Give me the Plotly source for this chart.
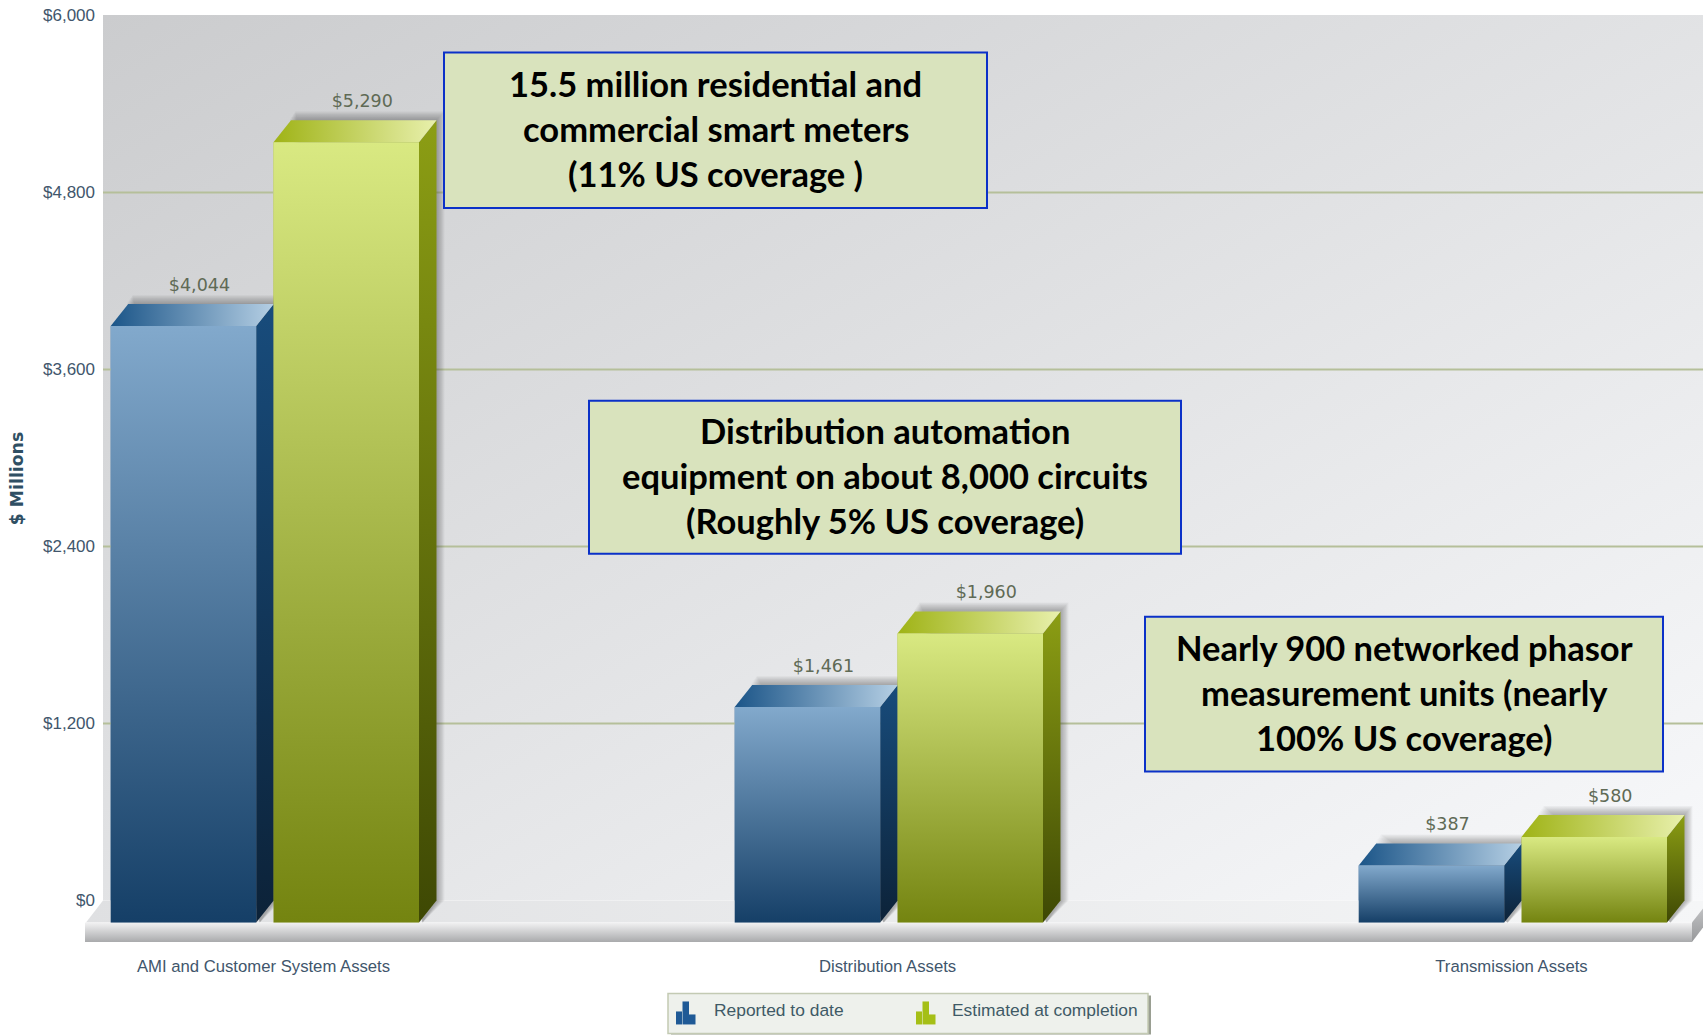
import base64
import plotly.graph_objects as go

W, H = 1703, 1035
categories = ["AMI and Customer System Assets", "Distribution Assets", "Transmission Assets"]
reported = [4044, 1461, 387]
estimated = [5290, 1960, 580]
value_labels_reported = ["$4,044", "$1,461", "$387"]
value_labels_estimated = ["$5,290", "$1,960", "$580"]
y_ticks = [0, 1200, 2400, 3600, 4800, 6000]
y_tick_labels = ["$0", "$1,200", "$2,400", "$3,600", "$4,800", "$6,000"]
notes = [
    ["15.5 million residential and", "commercial smart meters", "(11% US coverage )"],
    ["Distribution automation", "equipment on about 8,000 circuits", "(Roughly 5% US coverage)"],
    ["Nearly 900 networked phasor", "measurement units (nearly", "100% US coverage)"],
]
note_boxes = [(444, 52.5, 987, 208), (589, 401, 1181, 554), (1145, 617, 1663, 772)]

# layout constants, pixels
PX_LEFT, PX_TOP, PX_BOTTOM = 85, 15, 942.5
WALL_LEFT = 103
Y0_PX = 901.0
PX_PER_UNIT = (Y0_PX - 15.5) / 6000
CENTER0, SPACING = 263.5, 624.0
DX, DY_PX = 17.5, 22.0
DEPTH = DY_PX / PX_PER_UNIT
BAR_W = 145.5
DX_U = DX / SPACING
W_U = BAR_W / SPACING
OFF_B = (110.7 - CENTER0) / SPACING
OFF_G = (273.5 - CENTER0) / SPACING
X_MIN = (PX_LEFT - CENTER0) / SPACING
X_MAX = (W - CENTER0) / SPACING
Y_MAX = (Y0_PX - PX_TOP) / PX_PER_UNIT
Y_MIN = (Y0_PX - PX_BOTTOM) / PX_PER_UNIT
xu = lambda px: (px - CENTER0) / SPACING
px_x = lambda px: px / W
px_y = lambda py: 1 - (py - PX_TOP) / (PX_BOTTOM - PX_TOP)


def poly(xs, ys, grad=None, fill=None):
    t = dict(x=list(xs) + [xs[0]], y=list(ys) + [ys[0]], mode="lines", line=dict(width=0),
             fill="toself", hoverinfo="skip", showlegend=False)
    if grad is not None:
        t["fillgradient"] = grad
        t["fillcolor"] = "rgba(0,0,0,0)"
    else:
        t["fillcolor"] = fill
    return go.Scatter(**t)


def vgrad(top, bottom, c_top, c_bottom):
    return dict(type="vertical", start=top, stop=bottom, colorscale=[[0, c_top], [1, c_bottom]])


def hgrad(left, right, c_left, c_right):
    return dict(type="horizontal", start=left, stop=right, colorscale=[[0, c_left], [1, c_right]])


fig = go.Figure()

# real bars (gradient faces are drawn over them)
fig.add_bar(x=list(range(3)), y=reported, base=-DEPTH, width=W_U, offset=OFF_B, name="Reported to date",
            marker_color="#4a75a0", marker_line_width=0, showlegend=False)
fig.add_bar(x=list(range(3)), y=estimated, base=-DEPTH, width=W_U, offset=OFF_G, name="Estimated at completion",
            marker_color="#a8b840", marker_line_width=0, showlegend=False)

# gridlines on back wall
gx, gy = [], []
for t in y_ticks[1:-1]:
    gx += [xu(WALL_LEFT), X_MAX, None]
    gy += [t, t, None]
fig.add_scatter(x=gx, y=gy, mode="lines", line=dict(color="#b5bf9a", width=2), hoverinfo="skip", showlegend=False)

# floor back strip
fig.add_trace(poly([xu(86), xu(103), X_MAX, X_MAX], [-DEPTH, 0, 0, -DEPTH],
                   grad=hgrad(xu(86), X_MAX, "#dfe0e2", "#f5f6f7")))
# shelf front + right end
fig.add_trace(poly([xu(85), xu(1692), xu(1692), xu(85)], [-DEPTH, -DEPTH, Y_MIN, Y_MIN],
                   grad=vgrad(-DEPTH, Y_MIN, "#f2f2f3", "#a9aaac")))
fig.add_trace(poly([xu(1692), xu(1703), xu(1703), xu(1692)],
                   [-DEPTH, -DEPTH + 14 / PX_PER_UNIT, -DEPTH - 5 / PX_PER_UNIT, Y_MIN],
                   grad=vgrad(0, Y_MIN, "#c9cacc", "#97989a")))

BLUE = dict(front=("#82a9cc", "#153f67"), side=("#184c7c", "#0c2238"), top=("#1b5588", "#b5cfe4"))
GREEN = dict(front=("#d9e982", "#748410"), side=("#8c9e14", "#3e4804"), top=("#9fb316", "#e8f0ac"))


def draw_bar(i, v, off, pal):
    x0 = i + off
    x1 = x0 + W_U
    ft, fb = v - DEPTH, -DEPTH
    # soft shadow above and to the right
    for k in range(1, 11):
        e = k / SPACING
        ev = k / PX_PER_UNIT
        fig.add_trace(poly([x0 + DX_U * 0.9 + e * 0.6, x1 + DX_U + e * 0.8, x1 + DX_U + e * 0.8, x1 + DX_U * 0.2],
                           [v + ev * 0.9, v + ev * 0.9, 0, fb], fill="rgba(40,40,40,0.04)"))
    fig.add_trace(poly([x1, x1 + DX_U, x1 + DX_U, x1], [ft, v, 0, fb], grad=vgrad(v, fb, *pal["side"])))
    fig.add_trace(poly([x0, x1, x1 + DX_U, x0 + DX_U], [ft, ft, v, v], grad=hgrad(x0, x1 + DX_U, *pal["top"])))
    fig.add_trace(poly([x0, x1, x1, x0], [ft, ft, fb, fb], grad=vgrad(ft, fb, *pal["front"])))


for i, v in enumerate(reported):
    draw_bar(i, v, OFF_B, BLUE)
for i, v in enumerate(estimated):
    draw_bar(i, v, OFF_G, GREEN)

# data labels
LBL = dict(family="DejaVu Sans", size=17.5, color="#5f6a55")
LIFT = 9 / PX_PER_UNIT
LABEL_DX = -1.5 / SPACING
fig.add_scatter(x=[i + OFF_B + W_U / 2 + DX_U + LABEL_DX for i in range(3)], y=[v + LIFT for v in reported], mode="text",
                text=value_labels_reported, textposition="top center", textfont=LBL, hoverinfo="skip", showlegend=False)
fig.add_scatter(x=[i + OFF_G + W_U / 2 + DX_U + LABEL_DX for i in range(3)], y=[v + LIFT for v in estimated], mode="text",
                text=value_labels_estimated, textposition="top center", textfont=LBL, hoverinfo="skip", showlegend=False)

# back wall gradient
svg = ('<svg xmlns="http://www.w3.org/2000/svg" width="400" height="400" preserveAspectRatio="none">'
       '<defs><linearGradient id="g" x1="0" y1="0" x2="1" y2="1">'
       '<stop offset="0" stop-color="#cbccce"/><stop offset="1" stop-color="#f8f9fb"/></linearGradient></defs>'
       '<rect width="400" height="400" fill="url(#g)"/></svg>')
src = "data:image/svg+xml;base64," + base64.b64encode(svg.encode()).decode()
images = [dict(source=src, xref="paper", yref="paper", x=px_x(WALL_LEFT), y=px_y(PX_TOP),
               sizex=(W - WALL_LEFT) / W, sizey=(Y0_PX - PX_TOP) / (PX_BOTTOM - PX_TOP), sizing="stretch", layer="below",
               xanchor="left", yanchor="top")]

shapes, annotations = [], []
for (x0, y0, x1, y1), lines in zip(note_boxes, notes):
    shapes.append(dict(type="rect", xref="paper", yref="paper", x0=px_x(x0), x1=px_x(x1), y0=px_y(y0), y1=px_y(y1),
                       fillcolor="#d9e3bd", line=dict(color="#0b31c8", width=2), layer="above"))
    cy = (y0 + y1) / 2 - 1.5
    for n, line in enumerate(lines):
        annotations.append(dict(xref="paper", yref="paper", x=px_x((x0 + x1) / 2), y=px_y(cy + (n - 1) * 45),
                                text=line, showarrow=False, xanchor="center", yanchor="middle",
                                font=dict(family="Lato", size=34.5, color="#000000", weight="bold")))

# legend
LG = (668, 994, 1148, 1034)
shapes.append(dict(type="rect", xref="paper", yref="paper", x0=px_x(LG[0] + 3), x1=px_x(LG[2] + 3), y0=px_y(LG[1] + 2), y1=px_y(LG[3] + 1),
                   fillcolor="#9a9f92", line_width=0))
shapes.append(dict(type="rect", xref="paper", yref="paper", x0=px_x(LG[0]), x1=px_x(LG[2]), y0=px_y(LG[1]), y1=px_y(LG[3]),
                   fillcolor="#eef1ec", line=dict(color="#c3cab3", width=1.5)))
for x_start, col, label, tx in [(676, "#1f5a96", "Reported to date", 712), (916, "#a5bf16", "Estimated at completion", 949.5)]:
    for bx, bw, top in [(0, 6, 1012), (6.5, 6.5, 1002), (13, 6.5, 1015)]:
        shapes.append(dict(type="rect", xref="paper", yref="paper", x0=px_x(x_start + bx), x1=px_x(x_start + bx + bw),
                           y0=px_y(1025), y1=px_y(top), fillcolor=col, line_width=0))
    annotations.append(dict(xref="paper", yref="paper", x=px_x(tx), y=px_y(1011), text=label, showarrow=False,
                            xanchor="left", yanchor="middle", font=dict(family="Liberation Sans", size=17.4, color="#3f5a66")))

AX = dict(family="Liberation Sans", color="#41566c")
fig.update_layout(
    width=W, height=H, margin=dict(l=0, r=0, t=PX_TOP, b=H - PX_BOTTOM, pad=0), autosize=False,
    paper_bgcolor="#ffffff", plot_bgcolor="rgba(0,0,0,0)", barmode="overlay", showlegend=False,
    images=images, shapes=shapes, annotations=annotations,
    xaxis=dict(domain=[PX_LEFT / W, 1], range=[X_MIN, X_MAX], tickmode="array", tickvals=[0, 1, 2], ticktext=categories,
               showgrid=False, zeroline=False, showline=False, ticks="", ticklabelstandoff=12,
               tickfont=dict(size=16.7, **AX), fixedrange=True),
    yaxis=dict(domain=[0, 1], range=[Y_MIN, Y_MAX], tickmode="array", tickvals=y_ticks, ticktext=y_tick_labels,
               anchor="free", position=WALL_LEFT / W, showgrid=False, zeroline=False, showline=False, ticks="",
               ticklabelstandoff=8, tickfont=dict(size=17, **AX), fixedrange=True,
               title=dict(text="<b>$ Millions</b>", font=dict(size=17.3, family="DejaVu Sans", color="#2f4f63"), standoff=13),
               automargin=False),
)
fig.write_html("out.html", config=dict(displayModeBar=False),
               post_script="document.body.style.margin='0';document.body.style.overflow='hidden';")
